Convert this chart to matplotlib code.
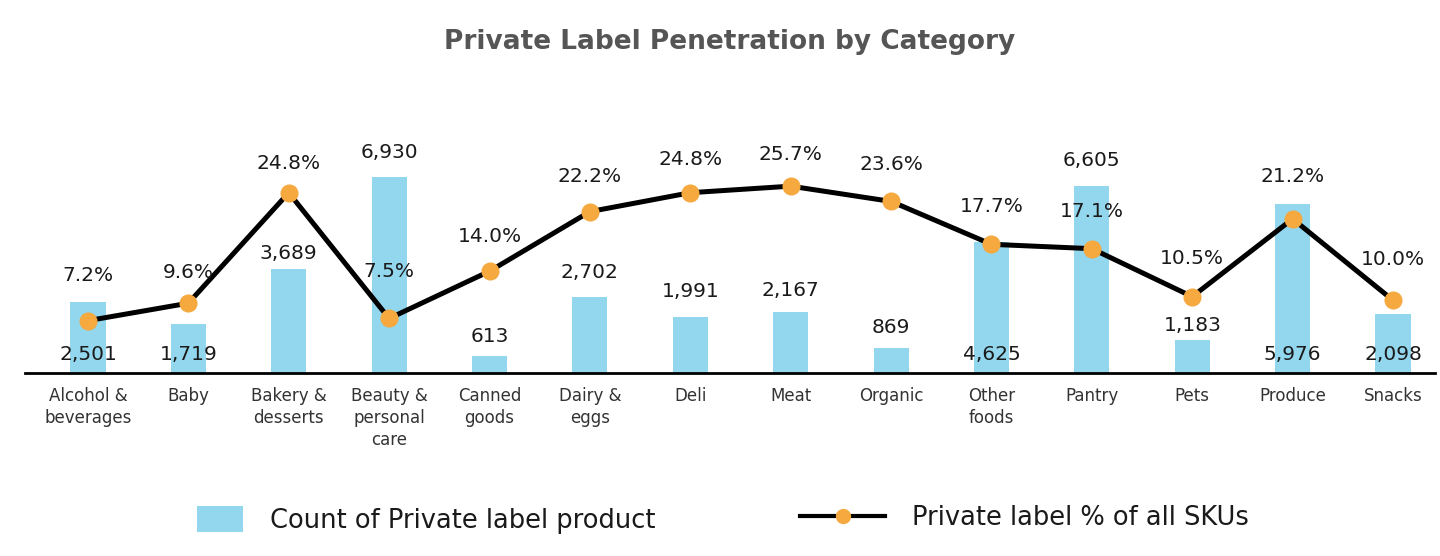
import matplotlib
matplotlib.use("Agg")
import matplotlib.pyplot as plt
from matplotlib.lines import Line2D
from matplotlib.patches import Patch

categories = ["Alcohol &\nbeverages", "Baby", "Bakery &\ndesserts", "Beauty &\npersonal\ncare",
              "Canned\ngoods", "Dairy &\neggs", "Deli", "Meat", "Organic", "Other\nfoods",
              "Pantry", "Pets", "Produce", "Snacks"]
counts = [2501, 1719, 3689, 6930, 613, 2702, 1991, 2167, 869, 4625, 6605, 1183, 5976, 2098]
pct = [7.2, 9.6, 24.8, 7.5, 14.0, 22.2, 24.8, 25.7, 23.6, 17.7, 17.1, 10.5, 21.2, 10.0]

# label styling (placement only)
count_pos = ["base", "base", "top", "top", "top", "top", "top", "top", "top", "base",
             "top", "top", "base", "base"]
count_off = [18, 18, 15, 24, 19, 24, 25, 21, 21, 18, 26, 14, 18, 18]
pct_off = [45, 31, 29, 47, 35, 35, 33, 32, 37, 38, 37, 38, 42, 41]

BAR = "#93D7EE"
ORANGE = "#F5A93F"

fig = plt.figure(figsize=(14.4, 5.56), dpi=100)
ax = fig.add_axes([25 / 1440, (556 - 373) / 556, 1410 / 1440, 273 / 556])
ax2 = ax.twinx()

x = list(range(len(categories)))
ax.bar(x, counts, width=0.35, color=BAR, zorder=1)
ax.set_ylim(0, 9647)
ax2.set_ylim(0, 37.55)
ax.set_xlim(-0.627, 13.418)

ax2.plot(x, pct, color="black", lw=3.6, marker="o", markersize=12,
         markerfacecolor=ORANGE, markeredgecolor=ORANGE, zorder=3)

for i, (c, pos, off) in enumerate(zip(counts, count_pos, count_off)):
    yv = c if pos == "top" else 0
    ax2.annotate(f"{c:,}", xy=(i, yv / 9647 * 37.55), xytext=(0, off),
                 textcoords="offset pixels", ha="center", va="center",
                 fontsize=14.5, color="#1a1a1a", zorder=5)

for i, (p, off) in enumerate(zip(pct, pct_off)):
    ax2.annotate(f"{p:.1f}%", xy=(i, p), xytext=(0, off), textcoords="offset pixels",
                 ha="center", va="center", fontsize=14.5, color="#1a1a1a", zorder=5)

for a in (ax, ax2):
    for s in ("top", "right", "left"):
        a.spines[s].set_visible(False)
    a.set_yticks([])
ax2.spines["bottom"].set_visible(False)
ax.spines["bottom"].set_linewidth(2)
ax.spines["bottom"].set_color("black")
ax.set_xticks(x)
ax.set_xticklabels(categories, fontsize=12, color="#333333", linespacing=1.3, va="top")
ax.tick_params(axis="x", length=0, pad=10)

fig.text(730 / 1440, 1 - 42 / 556, "Private Label Penetration by Category", ha="center",
         va="center", fontsize=19, fontweight="bold", color="#555555")

h1 = Patch(facecolor=BAR, edgecolor="none")
leg1 = fig.legend([h1], ["Count of Private label product"], loc="center left",
                  bbox_to_anchor=(197 / 1440, 1 - 520 / 556), frameon=False, fontsize=18.5,
                  handlelength=1.79, handleheight=1.17, handletextpad=1.05, borderpad=0,
                  borderaxespad=0, labelcolor="#1a1a1a")
h2 = Line2D([0], [0], color="black", lw=3, marker="o", markersize=10,
            markerfacecolor=ORANGE, markeredgecolor=ORANGE)
leg2 = fig.legend([h2], ["Private label % of all SKUs"], loc="center left",
                  bbox_to_anchor=(800 / 1440, 1 - 518 / 556), frameon=False, fontsize=18.5,
                  handlelength=3.31, handletextpad=1.05, borderpad=0, borderaxespad=0,
                  labelcolor="#1a1a1a")

fig.savefig("out.png", dpi=100)
